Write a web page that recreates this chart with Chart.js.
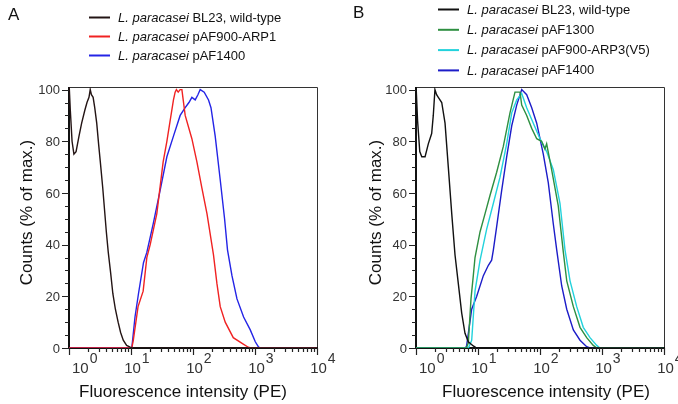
<!DOCTYPE html>
<html>
<head>
<meta charset="utf-8">
<script src="https://cdn.jsdelivr.net/npm/chart.js@4"></script>
<style>
html, body { margin: 0; padding: 0; background: #fff; }
.wrap { display: flex; width: 678px; height: 404px; }
.panel { width: 339px; height: 404px; }
</style>
</head>
<body>
<div class="wrap">
  <div class="panel"><canvas id="chartA" width="339" height="404"></canvas></div>
  <div class="panel"><canvas id="chartB" width="339" height="404"></canvas></div>
</div>
<script>
// tick labels
const xTickExps = [0, 1, 2, 3, 4];
const yTickLabels = [0, 20, 40, 60, 80, 100];

// panel A
const aLabels = ['L. paracasei BL23, wild-type', 'L. paracasei pAF900-ARP1', 'L. paracasei pAF1400'];
const aBlackX = [1.0, 1.05, 1.12, 1.2, 1.3, 1.45, 1.6, 1.8, 1.95, 2.1, 2.2, 2.3, 2.45, 2.6, 2.8, 3.0, 3.2, 3.5, 4.0, 4.3, 4.7, 5.1, 5.6, 6.2, 6.8, 7.5, 8.5, 9.7, 10.5, 10000];
const aBlackY = [103, 92, 80, 75, 76, 82, 87, 92, 95, 97, 100, 98, 97, 93, 87, 79, 72, 62, 45, 37, 29, 21, 15, 10, 6, 3, 1, 0.3, 0, 0];
const aRedX = [1, 10.3, 10.9, 13, 15.7, 18, 20.4, 26.1, 33, 37.9, 42.8, 48.4, 51.5, 54, 57.7, 62, 66.2, 74.8, 95.9, 115.6, 139, 168, 214, 243, 275, 331, 446, 647, 779, 850, 10000];
const aRedY = [0, 0, 3, 16, 22, 35, 40, 52, 72, 80, 88, 96, 99, 100, 99, 100, 100, 90, 81, 72, 62, 52, 36, 25, 16, 10, 4, 1.5, 0.3, 0, 0];
const aBlueX = [1, 10.3, 11.6, 13.2, 15.9, 18, 22.8, 29.5, 37.9, 48.4, 62.1, 74.8, 86, 95.9, 108.6, 120, 130.7, 151.6, 178, 195, 228, 275, 323, 360, 425, 512, 655, 839, 1011, 1143, 1250, 10000];
const aBlueY = [0, 0, 12, 21, 33, 37, 48, 61, 74, 82, 90, 93, 95, 97, 96, 98, 100, 99, 96, 93, 82, 65, 50, 38, 28, 19, 12, 7, 2.4, 0.3, 0, 0];

// panel B
const bLabels = ['L. paracasei BL23, wild-type', 'L. paracasei pAF1300', 'L. paracasei pAF900-ARP3(V5)', 'L. paracasei pAF1400'];
const bBlackX = [1.0, 1.06, 1.15, 1.24, 1.4, 1.58, 1.79, 1.9, 2.02, 2.15, 2.29, 2.6, 2.94, 3.32, 3.77, 4.26, 4.81, 5.46, 6.17, 6.98, 8.4, 9.53, 10000];
const bBlackY = [102, 88, 76, 74, 74, 79, 83, 90, 100, 98, 97, 95, 87, 70, 52, 36, 25, 13.5, 5.7, 2.4, 0.8, 0, 0];
const bGreenX = [1, 6.5, 6.98, 7.71, 8.4, 8.95, 10.8, 13, 15.6, 20, 25.6, 32.8, 39.5, 42.1, 47.6, 50.7, 61, 73.5, 88.5, 106, 120, 128, 154, 197, 238, 270, 345, 442, 566, 724, 822, 10000];
const bGreenY = [0, 0, 2, 19, 28, 35, 45, 52, 59, 68, 78, 91, 99, 99, 99, 94, 90, 85, 81, 80, 77, 79, 69, 55, 37, 26, 16, 8, 4, 1, 0, 0];
const bCyanX = [1, 7, 7.91, 8.95, 10.8, 13.8, 17.7, 22.6, 29, 35, 42.1, 50.7, 61, 78, 100, 128, 164, 210, 253, 305, 391, 499, 640, 822, 929, 10000];
const bCyanY = [0, 0, 3, 22, 34, 46, 56, 66, 79, 91, 96, 98.5, 93, 87, 81, 76, 69, 56, 38, 26, 16, 8, 4, 1, 0, 0];
const bBlueX = [1, 6.3, 6.57, 7.2, 7.91, 9.53, 12.2, 14.7, 16.6, 17.7, 20, 24.1, 29, 35, 42.1, 50.7, 61, 73.5, 88.5, 113, 136, 164, 186, 224, 270, 345, 442, 566, 640, 10000];
const bBlueY = [0, 0, 1, 8, 15, 20, 28, 32, 34, 38, 47, 61, 74, 86, 94, 100, 98, 93, 87, 75, 64, 48, 38, 24, 15, 7, 3, 0.5, 0, 0];

const FONT = "'Liberation Sans', Arial, sans-serif";

function pts(xs, ys) {
    return xs.map((x, i) => ({ x: x, y: ys[i] }));
}

function line(label, xs, ys, color) {
    return {
        label: label,
        data: pts(xs, ys),
        borderColor: color,
        borderWidth: 1.4,
        pointRadius: 0,
        tension: 0,
        fill: false
    };
}

const decor = {
    id: 'decor',
    beforeDatasetsDraw(chart) {
        const ctx = chart.ctx, a = chart.chartArea;
        ctx.save();
        // top & right frame
        ctx.strokeStyle = '#333';
        ctx.lineWidth = 1;
        ctx.beginPath();
        ctx.moveTo(a.left, a.top + 0.5);
        ctx.lineTo(a.right + 0.5, a.top + 0.5);
        ctx.lineTo(a.right + 0.5, a.bottom);
        ctx.stroke();
        // left & bottom axis
        ctx.strokeStyle = '#111';
        ctx.lineWidth = 2;
        ctx.beginPath();
        ctx.moveTo(a.left, a.top);
        ctx.lineTo(a.left, a.bottom);
        ctx.lineTo(a.right + 1, a.bottom);
        ctx.stroke();
        ctx.restore();
    },
    afterDraw(chart, args, o) {
        const ctx = chart.ctx, a = chart.chartArea;
        const xs = chart.scales.x, ys = chart.scales.y;
        ctx.save();
        ctx.strokeStyle = '#222';
        ctx.fillStyle = '#333';
        ctx.lineWidth = 1;

        // y ticks, major every 20, minor every 5
        for (let v = 0; v <= 100; v += 5) {
            const y = Math.round(ys.getPixelForValue(v)) + 0.5;
            const len = v % 20 === 0 ? 6 : 3;
            ctx.beginPath();
            ctx.moveTo(a.left - 1 - len, y);
            ctx.lineTo(a.left, y);
            ctx.stroke();
        }
        ctx.font = '13px ' + FONT;
        ctx.textAlign = 'right';
        ctx.textBaseline = 'middle';
        yTickLabels.forEach(v => {
            ctx.fillText(String(v), a.left - 9, ys.getPixelForValue(v) + 1);
        });

        // x ticks (log decades)
        ctx.lineWidth = 1.2;
        for (let e = 0; e < 4; e++) {
            for (let m = 1; m <= 9; m++) {
                const x = Math.round(xs.getPixelForValue(m * Math.pow(10, e))) + 0.5;
                const len = m === 1 ? 6 : 3;
                ctx.beginPath();
                ctx.moveTo(x, a.bottom);
                ctx.lineTo(x, a.bottom + 1 + len);
                ctx.stroke();
            }
        }
        const xEnd = Math.round(xs.getPixelForValue(10000)) + 0.5;
        ctx.beginPath();
        ctx.moveTo(xEnd, a.bottom);
        ctx.lineTo(xEnd, a.bottom + 7);
        ctx.stroke();

        // x tick labels 10^n
        ctx.textBaseline = 'alphabetic';
        ctx.textAlign = 'left';
        xTickExps.forEach((e, i) => {
            const px = xs.getPixelForValue(Math.pow(10, e));
            ctx.font = '15px ' + FONT;
            const w = ctx.measureText('10').width;
            const left = i === 0 ? px + 3 : px + 1.5 - w / 2;
            ctx.fillText('10', left, a.bottom + 25);
            ctx.font = '14px ' + FONT;
            ctx.fillText(String(e), left + w + 1, a.bottom + 15);
        });

        // axis titles
        ctx.fillStyle = '#111';
        ctx.font = '17px ' + FONT;
        ctx.textAlign = 'center';
        ctx.fillText('Fluorescence intensity (PE)', o.xTitleX, 397);
        ctx.save();
        ctx.translate(o.yTitleX, (a.top + a.bottom) / 2 - 5);
        ctx.rotate(-Math.PI / 2);
        ctx.fillText('Counts (% of max.)', 0, 0);
        ctx.restore();

        // panel letter
        ctx.textAlign = 'left';
        ctx.font = '17px ' + FONT;
        ctx.fillText(o.letter, o.letterX, o.letterY);

        // legend
        chart.data.datasets.forEach((ds, i) => {
            const y = o.legY + i * o.legDy;
            ctx.strokeStyle = ds.borderColor;
            ctx.lineWidth = 2;
            ctx.beginPath();
            ctx.moveTo(o.legX, y + 0.5);
            ctx.lineTo(o.legX + 21, y + 0.5);
            ctx.stroke();
            const it = 'L. paracasei ';
            const rest = ds.label.slice(it.length);
            ctx.fillStyle = '#111';
            ctx.textBaseline = 'middle';
            ctx.font = 'italic 13px ' + FONT;
            ctx.fillText(it, o.legX + 29, y + 1);
            const w = ctx.measureText(it).width;
            ctx.font = '13px ' + FONT;
            ctx.fillText(rest, o.legX + 29 + w, y + 1);
        });
        ctx.restore();
    }
};

function makeChart(id, datasets, padLeft, padRight, decorOpts) {
    return new Chart(document.getElementById(id), {
        type: 'line',
        data: { datasets: datasets },
        options: {
            responsive: false,
            animation: false,
            layout: { padding: { top: 87, left: padLeft, right: padRight, bottom: 0 } },
            plugins: {
                legend: { display: false },
                tooltip: { enabled: false },
                decor: decorOpts
            },
            scales: {
                x: {
                    type: 'logarithmic',
                    min: 1,
                    max: 10000,
                    ticks: { display: false },
                    grid: { display: false },
                    border: { display: false },
                    afterFit: s => { s.height = 56; }
                },
                y: {
                    type: 'linear',
                    min: 0,
                    max: 101,
                    ticks: { display: false },
                    grid: { display: false },
                    border: { display: false },
                    afterFit: s => { s.width = 69; }
                }
            }
        },
        plugins: [decor]
    });
}

makeChart('chartA', [
    line(aLabels[0], aBlackX, aBlackY, '#231414'),
    line(aLabels[1], aRedX, aRedY, '#f02222'),
    line(aLabels[2], aBlueX, aBlueY, '#2424e6')
], 0, 22, {
    letter: 'A', letterX: 8, letterY: 20,
    legX: 89, legY: 17, legDy: 19,
    xTitleX: 183, yTitleX: 32
});

makeChart('chartB', [
    line(bLabels[0], bBlackX, bBlackY, '#111111'),
    line(bLabels[1], bGreenX, bGreenY, '#2e8f40'),
    line(bLabels[2], bCyanX, bCyanY, '#22d2dc'),
    line(bLabels[3], bBlueX, bBlueY, '#1c1cc8')
], 8, 14, {
    letter: 'B', letterX: 14, letterY: 18,
    legX: 99, legY: 9, legDy: 20.3,
    xTitleX: 207, yTitleX: 42
});
</script>
</body>
</html>
